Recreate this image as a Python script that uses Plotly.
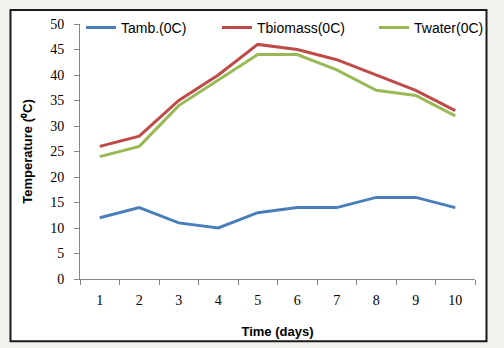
import plotly.graph_objects as go

days = ["1", "2", "3", "4", "5", "6", "7", "8", "9", "10"]
t_amb = [12, 14, 11, 10, 13, 14, 14, 16, 16, 14]
t_biomass = [26, 28, 35, 40, 46, 45, 43, 40, 37, 33]
t_water = [24, 26, 34, 39, 44, 44, 41, 37, 36, 32]
series_names = ["Tamb.(0C)", "Tbiomass(0C)", "Twater(0C)"]
colors = ["#4a7ebb", "#be4b48", "#98b954"]
y_ticks = [0, 5, 10, 15, 20, 25, 30, 35, 40, 45, 50]

fig = go.Figure()
legend_ids = ["legend", "legend2", "legend3"]
for vals, name, col, lg in zip([t_amb, t_biomass, t_water], series_names, colors, legend_ids):
    fig.add_trace(go.Scatter(x=days, y=vals, mode="lines", name=name,
                             line=dict(color=col, width=3), legend=lg, showlegend=True))

L, R, T, B = 80, 29, 17, 69
pw = 504 - L - R
ph = 348 - T - B

def px(x):
    return (x - L) / pw

def py(y):
    return (348 - B - y) / ph

legend_font = dict(family="Liberation Sans, Arial", size=14, color="#000")
leg_x = [81, 217, 374]
common = dict(orientation="h", xanchor="left", yanchor="middle", y=py(21),
              bgcolor="rgba(0,0,0,0)", font=legend_font, itemwidth=30,
              borderwidth=0, visible=True)

fig.update_layout(
    width=504, height=348,
    margin=dict(l=L, r=R, t=T, b=B),
    paper_bgcolor="#f2f2ee",
    plot_bgcolor="rgba(0,0,0,0)",
    showlegend=True,
    legend=dict(x=px(leg_x[0]), **common),
    legend2=dict(x=px(leg_x[1]), **common),
    legend3=dict(x=px(leg_x[2]), **common),
    xaxis=dict(type="category", tickson="boundaries", range=[-0.5, 9.5],
               ticks="outside", ticklen=5,
               tickcolor="#868686", showline=True, linecolor="#868686", linewidth=1,
               showgrid=False, zeroline=False,
               tickfont=dict(family="Liberation Serif, Times New Roman", size=14, color="#000"),
               ticklabelstandoff=8,
               title=dict(text="<b>Time (days)</b>", standoff=20,
                          font=dict(family="Liberation Sans, Arial", size=13, color="#000"))),
    yaxis=dict(range=[0, 50], tickvals=y_ticks, ticks="outside", ticklen=5,
               tickcolor="#868686", showline=True, linecolor="#868686", linewidth=1,
               showgrid=False, zeroline=False,
               tickfont=dict(family="Liberation Serif, Times New Roman", size=14, color="#000"),
               ticklabelstandoff=7,
               title=dict(text="<b>Temperature (⁰C)</b>", standoff=14,
                          font=dict(family="Liberation Sans, Arial", size=13, color="#000"))),
    shapes=[dict(type="rect", xref="paper", yref="paper", layer="below",
                 x0=px(10.5), x1=px(486.5), y0=py(343), y1=py(2.5),
                 fillcolor="white", line=dict(color="#1a1a1a", width=2))],
)

fig.write_html("out.html")
